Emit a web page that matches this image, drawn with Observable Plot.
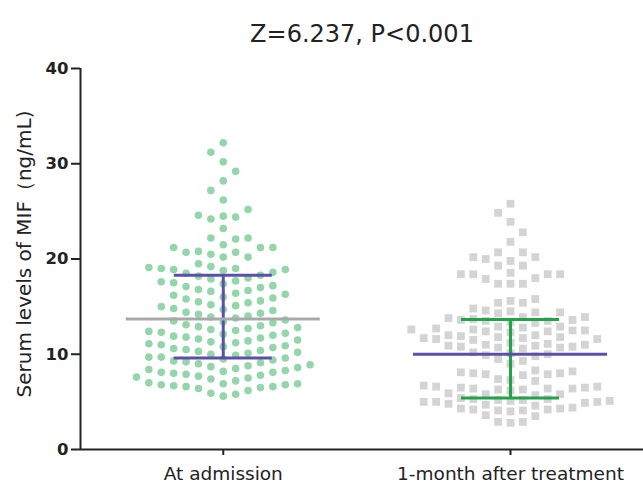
<!DOCTYPE html>
<html>
<head>
<meta charset="utf-8">
<script src="https://cdn.jsdelivr.net/npm/d3@7"></script>
<script src="https://cdn.jsdelivr.net/npm/@observablehq/plot@0.6"></script>
<style>
  html, body { margin: 0; padding: 0; background: #fff; }
  #chart svg { display: block; }
</style>
</head>
<body>
<div id="chart"></div>
<script>
// ---- data ----
const groups = ["At admission", "1-month after treatment"];
const titleText = "Z=6.237, P<0.001";
const yLabel = "Serum levels of MIF\uFF08ng/mL)";
const yTicks = [0, 10, 20, 30, 40];

const admission = [
  5.6, 5.8, 5.9,
  6.2, 6.4, 6.5, 6.6, 6.6, 6.7, 6.8, 6.8, 6.9, 6.9, 7.0,
  7.2, 7.4, 7.5, 7.6, 7.7, 7.8, 7.9, 8.0, 8.1, 8.1, 8.2, 8.3, 8.4,
  8.5, 8.6, 8.7, 8.8, 8.9, 9.0, 9.1, 9.2, 9.3, 9.4, 9.5, 9.6, 9.7, 9.7,
  9.9, 10.0, 10.1, 10.2, 10.3, 10.4, 10.5, 10.6, 10.7, 10.8, 10.9, 11.0, 11.1,
  11.2, 11.3, 11.4, 11.5, 11.6, 11.7, 11.8, 11.9, 12.0, 12.1, 12.2, 12.3, 12.4,
  12.5, 12.6, 12.7, 12.8, 12.9, 13.0, 13.1, 13.3, 13.4, 13.5, 13.6,
  13.8, 13.9, 14.0, 14.2, 14.3, 14.4, 14.6, 14.7, 14.8, 15.0,
  15.1, 15.2, 15.4, 15.5, 15.6, 15.8, 15.9, 16.0, 16.2, 16.3,
  16.4, 16.6, 16.7, 16.8, 17.0, 17.1, 17.2, 17.4, 17.5, 17.6,
  17.7, 17.9, 18.0, 18.2, 18.3, 18.5, 18.6,
  18.8, 18.9, 18.9, 19.0, 19.0, 19.1, 19.2,
  19.5, 20.2, 20.2, 20.5, 20.7, 20.7, 20.8, 21.2, 21.2, 21.2, 21.5,
  22.1, 22.2, 22.2, 23.2, 24.2, 24.4, 24.5, 24.6, 25.2,
  26.2, 27.2, 28.2, 29.2, 30.2, 31.2, 32.2
];

const oneMonth = [
  2.8, 2.9, 2.9,
  3.5, 3.6,
  4.0, 4.1, 4.1, 4.2, 4.2, 4.3, 4.3, 4.4,
  4.6, 4.7, 4.8,
  4.9, 5.0, 5.0, 5.0, 5.1, 5.1, 5.2, 5.2, 5.3, 5.3, 5.4,
  5.7, 5.8, 5.8, 5.9,
  6.2, 6.3, 6.3, 6.4, 6.4, 6.4, 6.5, 6.5, 6.6, 6.6, 6.7,
  7.2, 7.3, 7.4,
  7.8, 7.9, 7.9, 8.0, 8.0, 8.1, 8.2, 8.3,
  9.0, 9.3, 9.5,
  9.8, 9.9, 10.0, 10.1, 10.2,
  10.6, 10.7, 10.7, 10.8, 10.8, 10.9, 10.9, 11.0, 11.0, 11.1, 11.2,
  11.5, 11.6, 11.6, 11.7, 11.7, 11.8, 11.8, 11.9, 12.0, 12.0,
  12.3, 12.4, 12.4, 12.5, 12.5, 12.6, 12.6, 12.7, 12.8, 12.9, 12.9,
  13.3, 13.4, 13.5, 13.5, 13.6, 13.6, 13.7, 13.8, 13.9, 13.9,
  14.3, 14.4, 14.4, 14.5, 14.6,
  14.8, 15.4, 15.4, 15.6, 15.8,
  17.4, 17.4, 17.4, 17.9, 18.0, 18.4, 18.4, 18.4, 18.4, 18.55,
  19.3, 19.3, 19.8, 20.0, 20.2, 20.2, 20.7, 20.7,
  21.8, 22.8, 23.9, 24.85, 25.8
];

// summary lines
const medians = [13.7, 10.0];
const q1 = [9.6, 5.4];
const q3 = [18.3, 13.65];

// ---- layout / style ----
const W = 643, H = 483;
const mTop = 68, mBottom = 34, mLeft = 80, mRight = 0;
const xDomain = [-0.497, 1.463];
const yDomain = [0, 40];
const pxPerY = (H - mTop - mBottom) / (yDomain[1] - yDomain[0]);
const pxPerX = (W - mLeft - mRight) / (xDomain[1] - xDomain[0]);
const colStepPx = 12.4;
const gapPx = [12, 10];
const medianHalf = 97 / pxPerX;
const capHalf = 49 / pxPerX;

const dotFill = ["#93d6aa", "#d4d4d4"];
const medianColor = ["#a9a9a9", "#5a50a8"];
const barColor = ["#5a50a8", "#21a34a"];

// column scatter (Prism-like): each point at its value, shifted sideways to avoid overlap
function scatter(values, g) {
  const sorted = values.slice().sort(d3.ascending);
  const placed = new Map();
  let side = 1;
  return sorted.map(v => {
    const ypx = v * pxPerY;
    for (let m = 0; ; m++) {
      const cands = m === 0 ? [0] : [side * m, -side * m];
      for (const c of cands) {
        const arr = placed.get(c) || [];
        if (arr.every(p => Math.abs(p - ypx) >= gapPx[g])) {
          arr.push(ypx); placed.set(c, arr);
          if (c !== 0) side = -side;
          return {group: g, value: v, x: g + c * colStepPx / pxPerX};
        }
      }
    }
  });
}

const pts0 = scatter(admission, 0);
const pts1 = scatter(oneMonth, 1);
const idx = [0, 1];

const marks = [
  Plot.dot(pts0, {x: "x", y: "value", r: 3.8, fill: dotFill[0], stroke: "none"}),
  Plot.dot(pts1, {x: "x", y: "value", r: 4.4, symbol: "square", fill: dotFill[1], stroke: "none"})
];
for (const g of idx) {
  const d = [g];
  marks.push(
    Plot.ruleX(d, {x: i => i, y1: i => q1[i], y2: i => q3[i], stroke: barColor[g], strokeWidth: 3}),
    Plot.ruleY(d, {y: i => q1[i], x1: i => i - capHalf, x2: i => i + capHalf, stroke: barColor[g], strokeWidth: 3}),
    Plot.ruleY(d, {y: i => q3[i], x1: i => i - capHalf, x2: i => i + capHalf, stroke: barColor[g], strokeWidth: 3}),
    Plot.ruleY(d, {y: i => medians[i], x1: i => i - medianHalf, x2: i => i + medianHalf, stroke: medianColor[g], strokeWidth: 3})
  );
}
marks.push(
  Plot.ruleY([yDomain[0]], {stroke: "#222", strokeWidth: 2}),
  Plot.ruleX([xDomain[0]], {stroke: "#222", strokeWidth: 2}),
  Plot.axisY({ticks: yTicks, tickSize: 9, tickPadding: 3, fontSize: 16.5, fontWeight: "bold", strokeWidth: 2, stroke: "#222", fill: "#222", label: null}),
  Plot.axisX({ticks: idx, tickFormat: i => groups[i], tickSize: 6, tickPadding: 11, fontSize: 18.5, strokeWidth: 2, stroke: "#222", fill: "#222", label: null}),
  Plot.text([yLabel], {text: d => d, frameAnchor: "left", textAnchor: "middle", lineAnchor: "middle", dx: -56, dy: -5, rotate: -90, fontSize: 20, fill: "#222"}),
  Plot.text([titleText], {text: d => d, frameAnchor: "top", dy: -44, fontSize: 24, fill: "#222"})
);

const chart = Plot.plot({
  width: W, height: H,
  marginTop: mTop, marginBottom: mBottom, marginLeft: mLeft, marginRight: mRight,
  style: {fontFamily: "'DejaVu Sans', sans-serif", background: "#fff", color: "#222"},
  x: {domain: xDomain},
  y: {domain: yDomain},
  marks
});
document.getElementById("chart").appendChild(chart);
</script>
</body>
</html>
